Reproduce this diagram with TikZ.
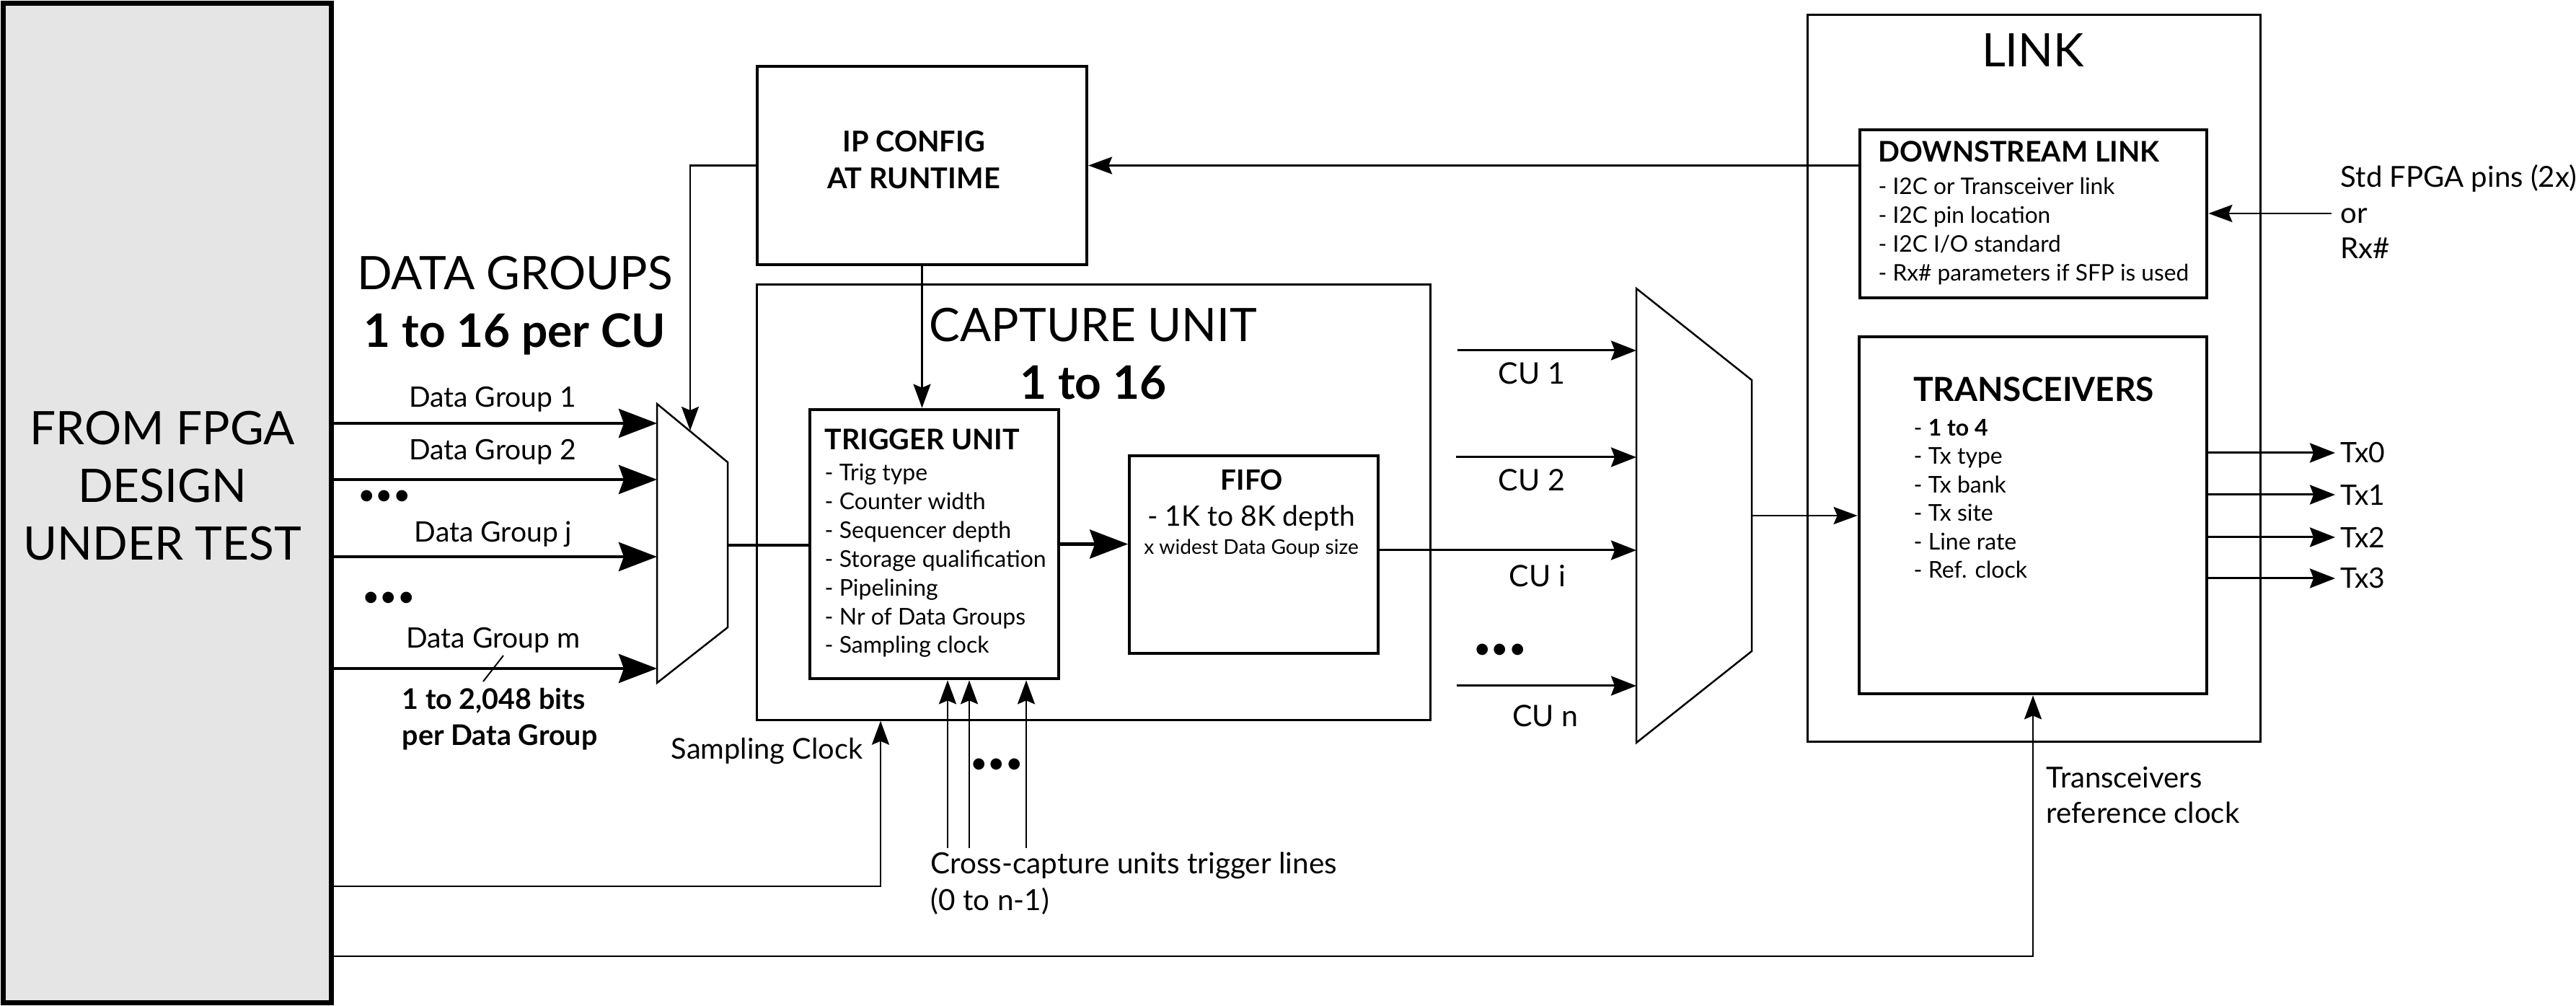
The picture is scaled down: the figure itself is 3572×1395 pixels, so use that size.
\documentclass[tikz,border=0pt]{standalone}
\usepackage{fontspec}
\setmainfont{Lato}
\usepackage{tikz}
\usetikzlibrary{arrows.meta,positioning,calc}

\tikzset{
  blk/.style={draw, line width=0.045cm, inner sep=0pt},
  muxline/.style={draw, line width=0.025cm, line join=miter},
  wire/.style={line width=0.03cm},
  bigarrow/.style={line width=0.045cm, -{Stealth[length=0.53cm, width=0.4cm, inset=0.07cm]}},
  cuarrow/.style={line width=0.03cm, -{Stealth[length=0.35cm, width=0.27cm, inset=0.05cm]}},
  thinarrow/.style={line width=0.025cm, -{Stealth[length=0.33cm, width=0.24cm, inset=0.05cm]}},
  bigtxt/.style={inner sep=0pt, align=center, anchor=base, font=\fontsize{18.2}{22.8}\selectfont},
  lbl/.style={inner sep=0pt, anchor=base, font=\fontsize{11.1}{14.3}\selectfont},
  hdr/.style={inner sep=0pt, anchor=base west, font=\bfseries\fontsize{11.2}{14}\selectfont},
  items/.style={inner sep=0pt, anchor=base west, align=left, font=\fontsize{9.1}{11.35}\selectfont},
  dots/.style={inner sep=0pt, font=\fontsize{12}{12}\selectfont},
}

\begin{document}
\begin{tikzpicture}[x=0.01cm, y=-0.01cm]
    \useasboundingbox (0,0) rectangle (3572,1395);

    % design under test
    \node[blk, line width=0.07cm, fill=black!10, minimum width=4.54cm, minimum height=13.85cm] (fpga) at (232,697.5) {};
    \node[bigtxt] (fpgatxt) at (225,777) {FROM FPGA\\DESIGN\\UNDER TEST};
    \node[bigtxt] (dgtitle) at (714,482) {DATA GROUPS\\\textbf{1 to 16 per CU}};

    % input mux
    \coordinate (m1a) at (911,560);
    \coordinate (m1b) at (1009,641);
    \coordinate (m1c) at (1009,870);
    \coordinate (m1d) at (911,947);
    \draw[muxline] (m1a) -- (m1b) -- (m1c) -- (m1d) -- cycle;

    \coordinate (dg1) at (911,587);
    \coordinate (dg2) at (911,665);
    \coordinate (dgj) at (911,772);
    \coordinate (dgm) at (911,927);
    \foreach \p in {dg1,dg2,dgj,dgm}
        \draw[bigarrow] (fpga.east |- \p) -- (\p);

    \node[lbl] (dg1lbl) at (683,565) {Data Group 1};
    \node[lbl] (dg2lbl) at (683,638) {Data Group 2};
    \node[lbl] (dgjlbl) at (684,752) {Data Group j};
    \node[lbl] (dgmlbl) at (684,899) {Data Group m};
    \node[dots] (dgdots1) at (533,690) {•••};
    \node[dots] (dgdots2) at (539,831) {•••};

    \coordinate (ldra) at (698,909);
    \coordinate (ldrb) at (670,945);
    \draw[line width=0.02cm] (ldra) -- (ldrb);
    \node[items, font=\bfseries\fontsize{11.2}{14.5}\selectfont] (bits) at (557,1034) {1 to 2,048 bits\\per Data Group};

    % config
    \node[blk, line width=0.04cm, minimum width=4.57cm, minimum height=2.75cm] (ip) at (1278.5,229.5) {};
    \node[lbl, align=center, font=\bfseries\fontsize{11.3}{14.5}\selectfont] (iptxt) at (1267,262) {IP CONFIG\\AT RUNTIME};

    % capture unit
    \node[blk, line width=0.03cm, minimum width=9.33cm, minimum height=6.03cm] (cap) at (1516.5,696.5) {};
    \node[bigtxt] (captitle) at (1516,554) {CAPTURE UNIT\\\textbf{1 to 16}};

    \node[blk, minimum width=3.45cm, minimum height=3.73cm] (trig) at (1295.5,754.5) {};
    \node[hdr] (trighdr) at (1143,624) {TRIGGER UNIT};
    \node[items] (trigitems) at (1143,906) {- Trig type\\- Counter width\\- Sequencer depth\\- Storage qualification\\- Pipelining\\- Nr of Data Groups\\- Sampling clock};

    \node[blk, line width=0.035cm, minimum width=3.45cm, minimum height=2.74cm] (fifo) at (1738.5,769) {};
    \node[lbl, font=\bfseries\fontsize{11}{14}\selectfont] (fifohdr) at (1736,680) {FIFO};
    \node[lbl, font=\fontsize{11.1}{14}\selectfont] (fifodepth) at (1735,730) {- 1K to 8K depth};
    \node[lbl, font=\fontsize{8}{10}\selectfont] (fifowidth) at (1735,769) {x widest Data Goup size};

    \coordinate (m1out) at (1009,756);
    \draw[bigarrow, -] (m1out) -- (m1out -| trig.west);
    \draw[bigarrow] (trig.east) -- (trig.east -| fifo.west);
    \draw[thinarrow] (ip.south) -- (ip.south |- trig.north);

    \coordinate (m1sel) at (957,597);
    \draw[thinarrow] (ip.west) -| (m1sel);

    % cross-capture trigger lines
    \foreach \x [count=\k] in {1314,1344,1423} {
        \coordinate (cc\k) at (\x,1176);
        \draw[thinarrow] (cc\k) -- (cc\k |- trig.south);
    }
    \node[dots] (ccdots) at (1382,1062) {•••};
    \node[items, font=\fontsize{11.5}{14.5}\selectfont] (cctxt) at (1290,1262) {Cross-capture units trigger lines\\(0 to n-1)};

    % sampling clock
    \coordinate (sclk) at (1221,1229);
    \draw[thinarrow] (fpga.east |- sclk) -- (sclk) -- (sclk |- cap.south);
    \node[items, font=\fontsize{11.3}{14}\selectfont] (sclktxt) at (930,1053) {Sampling Clock};

    % output mux
    \coordinate (m2a) at (2269,400);
    \coordinate (m2b) at (2429,527);
    \coordinate (m2c) at (2429,903);
    \coordinate (m2d) at (2269,1030);
    \draw[muxline] (m2a) -- (m2b) -- (m2c) -- (m2d) -- cycle;

    \coordinate (cu1) at (2269,486);
    \coordinate (cu2) at (2269,634);
    \coordinate (cui) at (2269,763);
    \coordinate (cun) at (2269,951);
    \draw[cuarrow] ([xshift=-2.48cm]cu1) -- (cu1);
    \draw[cuarrow] ([xshift=-2.5cm]cu2) -- (cu2);
    \draw[cuarrow] (fifo.east |- cui) -- (cui);
    \draw[cuarrow] ([xshift=-2.49cm]cun) -- (cun);
    \node[lbl, font=\fontsize{11.7}{14}\selectfont] (cu1lbl) at (2124,533) {CU 1};
    \node[lbl, font=\fontsize{11.7}{14}\selectfont] (cu2lbl) at (2124,681) {CU 2};
    \node[lbl, font=\fontsize{11.7}{14}\selectfont] (cuilbl) at (2132,814) {CU i};
    \node[lbl, font=\fontsize{11.7}{14}\selectfont] (cunlbl) at (2143,1008) {CU n};
    \node[dots] (cudots) at (2080,903) {•••};

    % link
    \node[blk, line width=0.03cm, minimum width=6.27cm, minimum height=10.07cm] (link) at (2820.5,524.5) {};
    \node[bigtxt] (linktitle) at (2819,93) {LINK};

    \node[blk, minimum width=4.81cm, minimum height=2.33cm] (dsl) at (2819.5,296.5) {};
    \node[hdr] (dslhdr) at (2604,225) {DOWNSTREAM LINK};
    \node[items, font=\fontsize{9}{11.4}\selectfont] (dslitems) at (2604,390) {- I2C or Transceiver link\\- I2C pin location\\- I2C I/O standard\\- Rx\# parameters if SFP is used};
    \draw[thinarrow] (dsl.west |- ip.east) -- (ip.east);

    \coordinate (stdpin) at (3233,296);
    \draw[thinarrow] (stdpin) -- (stdpin -| dsl.east);
    \node[items, font=\fontsize{11.4}{14.2}\selectfont] (stdtxt) at (3245,359) {Std FPGA pins (2x)\\or\\Rx\#};

    \node[blk, minimum width=4.82cm, minimum height=4.95cm] (xcvr) at (2819,714.5) {};
    \node[lbl, font=\bfseries\fontsize{13.1}{14}\selectfont] (xcvrhdr) at (2820,557) {TRANSCEIVERS};
    \node[items, font=\fontsize{9.1}{11.25}\selectfont] (xcvritems) at (2653,802) {- \textbf{1 to 4}\\- Tx type\\- Tx bank\\- Tx site\\- Line rate\\- Ref. clock};

    \coordinate (m2out) at (2429,715);
    \draw[thinarrow] (m2out) -- (m2out -| xcvr.west);

    \foreach \i/\y in {0/628,1/686,2/745,3/802} {
        \coordinate (tx\i) at (3238,\y);
        \draw[cuarrow] (xcvr.east |- tx\i) -- (tx\i);
        \node[lbl, anchor=west, inner xsep=0.07cm] (tx\i lbl) at (tx\i) {Tx\i};
    }

    % reference clock
    \coordinate (rclk) at (2819,1326);
    \draw[thinarrow] (fpga.east |- rclk) -- (rclk) -- (rclk |- xcvr.south);
    \node[items, font=\fontsize{11.4}{14.2}\selectfont] (rclktxt) at (2837,1142) {Transceivers\\reference clock};
\end{tikzpicture}
\end{document}
